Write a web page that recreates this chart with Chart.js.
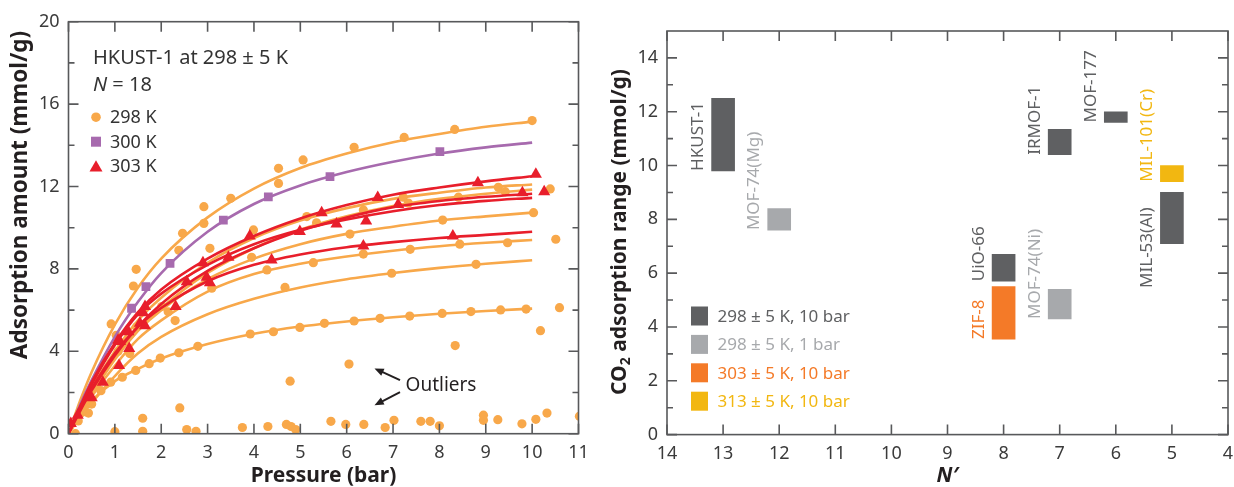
<!DOCTYPE html>
<html>
<head>
<meta charset="utf-8">
<script src="https://cdn.jsdelivr.net/npm/chart.js@4.4.1/dist/chart.umd.min.js"></script>
<style>
html, body { margin: 0; padding: 0; background: #fff; }
#wrap { position: relative; width: 1234px; height: 487px; overflow: hidden; }
#left { position: absolute; left: 0; top: 0; }
#right { position: absolute; left: 600px; top: 0; }
</style>
</head>
<body>
<div id="wrap">
  <canvas id="left" width="600" height="487"></canvas>
  <canvas id="right" width="634" height="487"></canvas>
</div>
<script>
// ---------- left panel: HKUST-1 isotherms ----------
var pressureTicks = [0, 1, 2, 3, 4, 5, 6, 7, 8, 9, 10, 11];
var amountTicks = [0, 4, 8, 12, 16, 20];
var amountMinor = [2, 6, 10, 14, 18];

// fitted curves at these pressures
var fitPressure = [0, 0.25, 0.5, 1, 1.5, 2, 3, 4, 5, 6, 7, 8, 9, 10];
var fit298 = [
  [0, 1.6, 3.0, 5.3, 7.1, 8.5, 10.5, 11.9, 12.9, 13.6, 14.15, 14.55, 14.9, 15.15],
  [0, 1.1, 2.2, 4.0, 5.5, 6.6, 8.3, 9.5, 10.35, 10.95, 11.4, 11.7, 11.95, 12.1],
  [0, 1.0, 1.9, 3.6, 5.0, 6.1, 7.8, 9.0, 9.9, 10.55, 11.05, 11.4, 11.65, 11.85],
  [0, 1.0, 2.0, 3.7, 5.0, 6.0, 7.5, 8.5, 9.2, 9.7, 10.05, 10.35, 10.55, 10.73],
  [0, 0.9, 1.8, 3.3, 4.6, 5.5, 6.9, 7.75, 8.25, 8.6, 8.88, 9.1, 9.27, 9.4],
  [0, 0.8, 1.5, 2.8, 3.9, 4.7, 5.8, 6.55, 7.1, 7.5, 7.8, 8.05, 8.25, 8.42],
  [0, 0.9, 1.6, 2.55, 3.15, 3.65, 4.35, 4.85, 5.2, 5.45, 5.65, 5.82, 5.96, 6.07]
];
var fit300 = [
  [0, 1.4, 2.6, 4.7, 6.4, 7.8, 9.8, 11.15, 12.05, 12.7, 13.2, 13.6, 13.9, 14.13]
];
var fit303 = [
  [0, 1.3, 2.5, 4.4, 5.9, 7.0, 8.5, 9.6, 10.45, 11.1, 11.6, 11.95, 12.25, 12.5],
  [0, 1.1, 2.1, 3.8, 5.2, 6.3, 7.9, 9.0, 9.85, 10.5, 11.0, 11.3, 11.5, 11.65],
  [0, 1.3, 2.4, 4.3, 5.8, 6.8, 8.2, 9.2, 9.9, 10.4, 10.8, 11.1, 11.3, 11.45],
  [0, 1.2, 2.2, 3.9, 5.2, 6.1, 7.4, 8.2, 8.7, 9.05, 9.3, 9.5, 9.65, 9.8]
];

// measured points [pressure, amount]
var pts298 = [
  [0.92,5.33],[1.4,7.17],[1.46,7.98],[2.46,9.73],[2.92,11.02],[2.92,10.21],[3.5,11.43],[4.53,12.88],
  [4.53,12.15],[5.06,13.29],[6.16,13.9],[7.24,14.38],[8.33,14.77],[10.0,15.2],
  [5.14,10.54],[5.35,10.24],[6.36,10.86],[7.22,11.48],[7.33,11.2],[8.41,11.48],[9.27,11.96],[9.42,11.75],
  [6.07,9.69],[8.07,10.37],[10.03,10.73],[5.28,8.3],[6.36,8.72],[7.37,8.95],[8.44,9.2],[9.47,9.27],
  [4.67,7.1],[6.97,7.79],[8.79,8.22],[3.05,9.0],[3.99,9.89],[3.95,8.56],[4.28,7.95],[3.09,7.06],
  [2.01,6.17],[2.15,5.92],[2.3,5.49],[1.47,5.19],[1.03,4.78],[1.07,4.0],[1.32,3.89],[2.38,8.9],
  [0.43,1.0],[0.5,1.44],[0.29,1.03],[0.21,0.62],
  [0.7,2.09],[0.91,2.5],[1.16,2.74],[1.45,3.07],[1.74,3.4],[1.98,3.67],[2.38,3.93],[2.79,4.24],
  [3.92,4.84],[4.42,4.95],[4.99,5.16],[5.52,5.36],[6.16,5.47],[6.72,5.6],[7.36,5.71],[8.06,5.84],
  [8.68,5.93],[9.32,6.01],[9.87,6.05]
];
var outliers298 = [
  [0.15,0.0],[1.0,0.1],[1.6,0.75],[1.6,0.12],[2.4,1.25],[2.55,0.2],[2.75,0.12],[3.75,0.3],
  [4.3,0.35],[4.7,0.45],[4.8,0.35],[4.9,0.2],[4.78,2.55],[5.66,0.6],[5.98,0.45],[6.05,3.38],
  [6.37,0.45],[6.83,0.3],[7.02,0.65],[7.6,0.6],[7.8,0.6],[8.0,0.38],[8.34,4.28],[8.95,0.9],
  [8.95,0.65],[9.26,0.68],[9.78,0.48],[10.08,0.7],[10.32,1.0],[11.02,0.85],[10.18,5.0],
  [10.59,6.12],[10.51,9.44],[10.39,11.88]
];
var pts300 = [[1.36,6.09],[1.67,7.14],[2.19,8.27],[3.34,10.37],[4.31,11.5],[5.64,12.48],[8.01,13.69]];
var pts303 = [
  [0.05,0.5],[0.2,0.9],[0.5,1.75],[0.74,2.5],[1.09,3.31],[1.07,4.54],[1.31,4.13],[1.11,4.47],
  [1.29,4.95],[1.54,5.36],[1.61,5.87],[1.65,6.17],[1.65,5.24],[2.31,6.17],[2.55,7.38],[2.9,8.3],
  [2.98,7.59],[3.05,7.33],[3.45,8.56],[3.91,9.6],[4.38,8.43],[4.99,9.81],[5.46,10.73],[5.78,10.18],
  [6.42,10.33],[6.36,9.11],[6.67,11.46],[7.11,11.13],[8.29,9.6],[8.83,12.18],[9.79,11.7],
  [10.08,12.6],[10.26,11.75]
];

// ---------- right panel: CO2 range vs N' ----------
var nTicks = [4, 5, 6, 7, 8, 9, 10, 11, 12, 13, 14];
var rangeTicks = [0, 2, 4, 6, 8, 10, 12, 14];
var rangeMinor = [1, 3, 5, 7, 9, 11, 13];
var mofNames = ['HKUST-1', 'MOF-74(Mg)', 'IRMOF-1', 'MOF-177', 'UiO-66', 'MIL-53(Al)', 'MOF-74(Ni)', 'ZIF-8', 'MIL-101(Cr)'];
var mofN = [13, 12, 7, 6, 8, 5, 7, 8, 5];
var mofLow = [9.8, 7.6, 10.4, 11.6, 5.7, 7.1, 4.3, 3.55, 9.4];
var mofHigh = [12.5, 8.4, 11.35, 12.0, 6.7, 9.0, 5.4, 5.5, 10.0];
var mofGroup = [0, 1, 0, 0, 0, 0, 1, 2, 3];
var groupNames = ['298 \u00b1 5 K, 10 bar', '298 \u00b1 5 K, 1 bar', '303 \u00b1 5 K, 10 bar', '313 \u00b1 5 K, 10 bar'];

var ORANGE = '#f8a84a', PURPLE = '#a76aae', RED = '#e81e2b';
var groupColors = ['#5f6062', '#a7a9ac', '#f47a28', '#f2b711'];
var FONT = '"Noto Sans", "Open Sans", sans-serif';
var TICKCOL = '#3b3b3b', FRAMECOL = '#58595b';

function xy(arr) { return arr.map(function (p) { return { x: p[0], y: p[1] }; }); }
function curve(ys) { return ys.map(function (v, i) { return { x: fitPressure[i], y: v }; }); }

var leftSets = [];
fit298.forEach(function (c) {
  leftSets.push({ type: 'line', data: curve(c), borderColor: ORANGE, borderWidth: 2.6, pointRadius: 0, cubicInterpolationMode: 'monotone', order: 6 });
});
leftSets.push({ data: xy(pts298.concat(outliers298)), backgroundColor: ORANGE, borderWidth: 0, pointRadius: 4.6, pointStyle: 'circle', order: 5 });
fit300.forEach(function (c) {
  leftSets.push({ type: 'line', data: curve(c), borderColor: PURPLE, borderWidth: 2.6, pointRadius: 0, cubicInterpolationMode: 'monotone', order: 4 });
});
leftSets.push({ data: xy(pts300), backgroundColor: PURPLE, borderWidth: 0, pointRadius: 6.2, pointStyle: 'rect', order: 3 });
fit303.forEach(function (c) {
  leftSets.push({ type: 'line', data: curve(c), borderColor: RED, borderWidth: 2.6, pointRadius: 0, cubicInterpolationMode: 'monotone', order: 2 });
});
leftSets.push({ data: xy(pts303), backgroundColor: RED, borderWidth: 0, pointRadius: 7, pointStyle: 'triangle', order: 1 });

function framePlugin(xMajor, xMinor, yMajor, yMinor) {
  return {
    id: 'frame',
    afterDatasetsDraw: function (chart) {
      var c = chart.ctx, a = chart.chartArea, xs = chart.scales.x, ys = chart.scales.y;
      c.save();
      c.strokeStyle = FRAMECOL;
      c.lineWidth = 1.6;
      c.strokeRect(a.left, a.top, a.right - a.left, a.bottom - a.top);
      c.beginPath();
      function xt(v, len) {
        var p = xs.getPixelForValue(v);
        c.moveTo(p, a.bottom); c.lineTo(p, a.bottom - len);
        c.moveTo(p, a.top); c.lineTo(p, a.top + len);
      }
      function yt(v, len) {
        var p = ys.getPixelForValue(v);
        c.moveTo(a.left, p); c.lineTo(a.left + len, p);
        c.moveTo(a.right, p); c.lineTo(a.right - len, p);
      }
      xMajor.forEach(function (v) { xt(v, 10); });
      xMinor.forEach(function (v) { xt(v, 6); });
      yMajor.forEach(function (v) { yt(v, 10); });
      yMinor.forEach(function (v) { yt(v, 6); });
      c.stroke();
      c.restore();
    }
  };
}

function drawMarker(c, style, x, y, r, col) {
  c.fillStyle = col;
  c.beginPath();
  if (style === 'circle') {
    c.arc(x, y, r, 0, Math.PI * 2);
  } else if (style === 'rect') {
    c.rect(x - r, y - r, 2 * r, 2 * r);
  } else {
    c.moveTo(x, y - r);
    c.lineTo(x + r * 0.866, y + r * 0.5);
    c.lineTo(x - r * 0.866, y + r * 0.5);
    c.closePath();
  }
  c.fill();
}

function arrow(c, x1, y1, x2, y2) {
  var ang = Math.atan2(y2 - y1, x2 - x1), h = 10;
  c.beginPath();
  c.moveTo(x1, y1);
  c.lineTo(x2 - Math.cos(ang) * 6, y2 - Math.sin(ang) * 6);
  c.stroke();
  c.beginPath();
  c.moveTo(x2, y2);
  c.lineTo(x2 - h * Math.cos(ang - 0.4), y2 - h * Math.sin(ang - 0.4));
  c.lineTo(x2 - h * Math.cos(ang + 0.4), y2 - h * Math.sin(ang + 0.4));
  c.closePath();
  c.fill();
}

var leftText = {
  id: 'leftText',
  afterDraw: function (chart) {
    var c = chart.ctx, a = chart.chartArea, xs = chart.scales.x, ys = chart.scales.y;
    c.save();
    c.fillStyle = '#333';
    c.textBaseline = 'alphabetic';
    c.textAlign = 'left';
    c.font = '20px ' + FONT;
    c.fillText('HKUST-1 at 298 \u00b1 5 K', a.left + 24.5, a.top + 41.8);
    c.font = 'italic 20px ' + FONT;
    c.fillText('N', a.left + 24.5, a.top + 69.5);
    var w = c.measureText('N').width;
    c.font = '20px ' + FONT;
    c.fillText(' = 18', a.left + 24.5 + w, a.top + 69.5);

    var leg = [['298 K', 'circle', 4.8, ORANGE], ['300 K', 'rect', 5, PURPLE], ['303 K', 'triangle', 7.5, RED]];
    c.font = '18px ' + FONT;
    c.textBaseline = 'middle';
    leg.forEach(function (l, i) {
      var y = a.top + 95.5 + i * 24.5;
      drawMarker(c, l[1], a.left + 27.5, y + (l[1] === 'triangle' ? 1.5 : 0), l[2], l[3]);
      c.fillStyle = '#333';
      c.fillText(l[0], a.left + 41.5, y + 1);
    });

    // outlier callout
    c.fillStyle = '#231f20';
    c.font = '19px ' + FONT;
    c.fillText('Outliers', xs.getPixelForValue(7.27), ys.getPixelForValue(2.33));
    c.strokeStyle = '#231f20';
    c.lineWidth = 2;
    arrow(c, xs.getPixelForValue(7.15), ys.getPixelForValue(2.6), xs.getPixelForValue(6.6), ys.getPixelForValue(3.17));
    arrow(c, xs.getPixelForValue(7.15), ys.getPixelForValue(2.02), xs.getPixelForValue(6.6), ys.getPixelForValue(1.38));

    // axis titles
    c.fillStyle = '#231f20';
    c.font = 'bold 21px ' + FONT;
    c.textAlign = 'center';
    c.fillText('Pressure (bar)', (a.left + a.right) / 2, 476);
    c.save();
    c.translate(21, 195);
    c.rotate(-Math.PI / 2);
    c.font = 'bold 22.5px ' + FONT;
    c.fillText('Adsorption amount (mmol/g)', 0, 0);
    c.restore();
    c.restore();
  }
};

function tickSetter(vals) {
  return function (s) { s.ticks = vals.map(function (v) { return { value: v }; }); };
}

new Chart(document.getElementById('left'), {
  type: 'scatter',
  data: { datasets: leftSets },
  options: {
    responsive: false,
    animation: false,
    events: [],
    layout: { padding: { left: 0, right: 21.5, top: 21.7, bottom: 0 } },
    plugins: { legend: { display: false }, tooltip: { enabled: false } },
    scales: {
      x: {
        type: 'linear', min: 0, max: 11,
        afterBuildTicks: tickSetter(pressureTicks),
        afterFit: function (s) { s.height = 53.3; },
        grid: { display: false, drawTicks: false }, border: { display: false },
        ticks: { padding: 8, autoSkip: false, maxRotation: 0, color: TICKCOL, font: { family: FONT, size: 18 } }
      },
      y: {
        type: 'linear', min: 0, max: 20,
        afterBuildTicks: tickSetter(amountTicks),
        afterFit: function (s) { s.width = 68.5; },
        grid: { display: false, drawTicks: false }, border: { display: false },
        ticks: { padding: 9, autoSkip: false, color: TICKCOL, font: { family: FONT, size: 18 } }
      }
    }
  },
  plugins: [framePlugin(pressureTicks, [], amountTicks, amountMinor), leftText]
});

// ---------- right chart ----------
var rightSets = groupNames.map(function (g, gi) {
  var d = [];
  mofNames.forEach(function (name, i) {
    if (mofGroup[i] === gi) d.push({ x: mofN[i], y: [mofLow[i], mofHigh[i]], name: name });
  });
  return { label: g, data: d, backgroundColor: groupColors[gi], borderWidth: 0, barThickness: 23, grouped: false };
});

// label text sits left of each bar; MIL-53(Al) label hangs lower than its bar
var labelDrop = { 'MIL-53(Al)': 1.65 };

var rightText = {
  id: 'rightText',
  afterDraw: function (chart) {
    var c = chart.ctx, a = chart.chartArea, xs = chart.scales.x, ys = chart.scales.y;
    c.save();
    c.font = '17px ' + FONT;
    c.textAlign = 'left';
    c.textBaseline = 'middle';
    mofNames.forEach(function (name, i) {
      var px = xs.getPixelForValue(mofN[i] + 0.44);
      var py = ys.getPixelForValue(mofLow[i] - (labelDrop[name] || 0));
      c.save();
      c.translate(px, py);
      c.rotate(-Math.PI / 2);
      c.fillStyle = groupColors[mofGroup[i]];
      c.fillText(name, 0, 0);
      c.restore();
    });

    // legend
    c.font = '17px ' + FONT;
    groupNames.forEach(function (g, i) {
      var y = 316 + i * 28.4;
      c.fillStyle = groupColors[i];
      c.fillRect(a.left + 24, y - 9.5, 17, 19);
      c.fillText(g, a.left + 50.5, y + 1);
    });

    // axis titles
    c.fillStyle = '#231f20';
    c.textAlign = 'center';
    c.font = 'italic bold 21px ' + FONT;
    c.fillText('N\u2032', (a.left + a.right) / 2, 476);

    c.save();
    c.translate(20, 232);
    c.rotate(-Math.PI / 2);
    var big = 'bold 21px ' + FONT, small = 'bold 14px ' + FONT;
    c.font = big;
    var w1 = c.measureText('CO').width;
    var w3 = c.measureText(' adsorption range (mmol/g)').width;
    c.font = small;
    var w2 = c.measureText('2').width;
    var x0 = -(w1 + w2 + w3) / 2;
    c.textAlign = 'left';
    c.font = big;
    c.fillText('CO', x0, 0);
    c.font = small;
    c.fillText('2', x0 + w1, 6);
    c.font = big;
    c.fillText(' adsorption range (mmol/g)', x0 + w1 + w2, 0);
    c.restore();
    c.restore();
  }
};

new Chart(document.getElementById('right'), {
  type: 'bar',
  data: { datasets: rightSets },
  options: {
    responsive: false,
    animation: false,
    events: [],
    layout: { padding: { left: 0, right: 6, top: 31, bottom: 0 } },
    plugins: { legend: { display: false }, tooltip: { enabled: false } },
    scales: {
      x: {
        type: 'linear', min: 4, max: 14, reverse: true, offset: false,
        afterBuildTicks: tickSetter(nTicks),
        afterFit: function (s) { s.height = 52.4; },
        grid: { display: false, drawTicks: false }, border: { display: false },
        ticks: { padding: 8, autoSkip: false, maxRotation: 0, color: TICKCOL, font: { family: FONT, size: 18 } }
      },
      y: {
        type: 'linear', min: 0, max: 15,
        afterBuildTicks: tickSetter(rangeTicks),
        afterFit: function (s) { s.width = 67; },
        grid: { display: false, drawTicks: false }, border: { display: false },
        ticks: { padding: 9, autoSkip: false, color: TICKCOL, font: { family: FONT, size: 18 } }
      }
    }
  },
  plugins: [framePlugin(nTicks, [], rangeTicks, rangeMinor), rightText]
});
</script>
</body>
</html>
